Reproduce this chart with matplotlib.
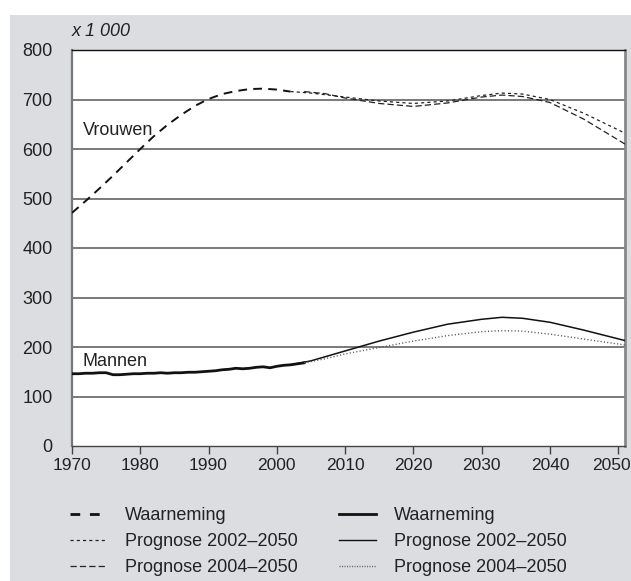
import matplotlib
matplotlib.use("Agg")
import matplotlib.pyplot as plt
from matplotlib.patches import Rectangle
from matplotlib.lines import Line2D

plt.rcParams['font.family'] = ['Liberation Sans', 'DejaVu Sans']

# ---- data (x 1 000) ----
women_obs_years = [1970, 1972, 1974, 1976, 1978, 1980, 1982, 1984, 1986, 1988,
                   1990, 1992, 1994, 1996, 1998, 2000, 2002]
women_obs = [471, 495, 520, 546, 573, 600, 626, 649, 669, 687,
             701, 711, 717, 721, 722, 720, 716]

women_p02_years = [2002, 2005, 2010, 2015, 2020, 2025, 2030, 2033, 2036, 2040, 2045, 2051]
women_p02 = [716, 713, 705, 697, 692, 697, 708, 713, 711, 700, 672, 632]

women_p04_years = [2004, 2007, 2010, 2015, 2020, 2025, 2030, 2033, 2036, 2040, 2045, 2051]
women_p04 = [716, 712, 703, 692, 686, 693, 705, 709, 706, 694, 660, 610]

men_obs_years = list(range(1970, 2005))
men_obs = [146, 146, 147, 147, 148, 148, 144, 144, 145, 146,
           146, 147, 147, 148, 147, 148, 148, 149, 149, 150,
           151, 152, 154, 155, 157, 156, 157, 159, 160, 158,
           161, 163, 164, 166, 168]

men_p02_years = [2002, 2005, 2010, 2015, 2020, 2025, 2030, 2033, 2036, 2040, 2045, 2051]
men_p02 = [164, 172, 192, 212, 230, 246, 256, 260, 258, 250, 234, 213]

men_p04_years = [2004, 2007, 2010, 2015, 2020, 2025, 2030, 2033, 2036, 2040, 2045, 2051]
men_p04 = [168, 176, 186, 199, 212, 223, 231, 233, 232, 226, 216, 204]

xticks = [1970, 1980, 1990, 2000, 2010, 2020, 2030, 2040, 2050]
yticks = [0, 100, 200, 300, 400, 500, 600, 700, 800]

W, H = 631, 581
fig = plt.figure(figsize=(W / 100, H / 100), dpi=100)
fig.patch.set_facecolor('white')
fig.patches.append(Rectangle((10 / W, 0), (W - 10) / W, (H - 15) / H,
                             transform=fig.transFigure, facecolor='#dcdde0',
                             edgecolor='none', zorder=-10))

L, R, T, B = 72, 625, 50, 446
ax = fig.add_axes([L / W, (H - B) / H, (R - L) / W, (B - T) / H])
ax.set_zorder(2)
ax.set_facecolor('white')
ax.set_xlim(1970, 2051)
ax.set_ylim(0, 800)

for v in yticks[1:-1]:
    ax.axhline(v, color='#555555', lw=1.1, zorder=1)

fs = 13
# women
ax.plot(women_obs_years, women_obs, color='#111111', lw=1.4, dashes=(4.5, 3.2), zorder=3)
ax.plot(women_p02_years, women_p02, color='#222222', lw=0.9, dashes=(2.5, 2.5), zorder=3)
ax.plot(women_p04_years, women_p04, color='#222222', lw=0.9, dashes=(5, 2.5), zorder=3)
# men
ax.plot(men_obs_years, men_obs, color='#111111', lw=2.0, zorder=3, solid_joinstyle='round')
ax.plot(men_p02_years, men_p02, color='#111111', lw=1.1, zorder=3)
ax.plot(men_p04_years, men_p04, color='#555555', lw=1.0, dashes=(0.8, 1.6), zorder=3)

ax.text(1971.6, 638, 'Vrouwen', fontsize=fs, color='#222222', va='center')
ax.text(1971.6, 171, 'Mannen', fontsize=fs, color='#222222', va='center')

ax.set_xticks(xticks)
ax.set_xticklabels([str(x) for x in xticks[:-1]] + [''])
ax.annotate(str(xticks[-1]), xy=(xticks[-1], 0), xycoords=('data', 'axes fraction'),
            xytext=(-4.5, -8.8), textcoords='offset points', ha='center', va='top',
            fontsize=12.5, color='#222222', annotation_clip=False)
ax.set_yticks(yticks)
ax.tick_params(axis='x', direction='out', length=6, width=1, color='#444444',
               labelsize=12.5, pad=3)
ax.tick_params(axis='y', length=0, labelsize=fs, pad=14)
for lab in ax.get_yticklabels() + ax.get_xticklabels():
    lab.set_color('#222222')

ax.spines['top'].set_color('#111111')
ax.spines['top'].set_linewidth(1.0)
ax.spines['left'].set_color('#777777')
ax.spines['left'].set_linewidth(1.6)
ax.spines['right'].set_color('#888888')
ax.spines['right'].set_linewidth(2.0)
ax.spines['bottom'].set_color('#444444')
ax.spines['bottom'].set_linewidth(1.0)

ax.text(0, 1.025, 'x 1 000', transform=ax.transAxes, fontsize=fs, style='italic',
        color='#222222', ha='left', va='bottom')

handles = [
    Line2D([], [], color='#111111', lw=2.0, dashes=(3.5, 3.5)),
    Line2D([], [], color='#222222', lw=0.9, dashes=(2.5, 2.5)),
    Line2D([], [], color='#222222', lw=0.9, dashes=(5, 2.5)),
    Line2D([], [], color='#111111', lw=2.0),
    Line2D([], [], color='#111111', lw=1.0),
    Line2D([], [], color='#666666', lw=1.0, dashes=(0.8, 1.0)),
]
labels = ['Waarneming', 'Prognose 2002\u20132050', 'Prognose 2004\u20132050',
          'Waarneming', 'Prognose 2002\u20132050', 'Prognose 2004\u20132050']
leg = fig.legend(handles, labels, ncol=2, loc='upper left',
                 bbox_to_anchor=(70 / W, 1 - 507 / H), frameon=False,
                 fontsize=fs, handlelength=2.05, handletextpad=1.0,
                 columnspacing=2.3, labelspacing=0.5, borderaxespad=0,
                 borderpad=0)
for t in leg.get_texts():
    t.set_color('#222222')

fig.savefig('out.png', dpi=100, facecolor='white')
